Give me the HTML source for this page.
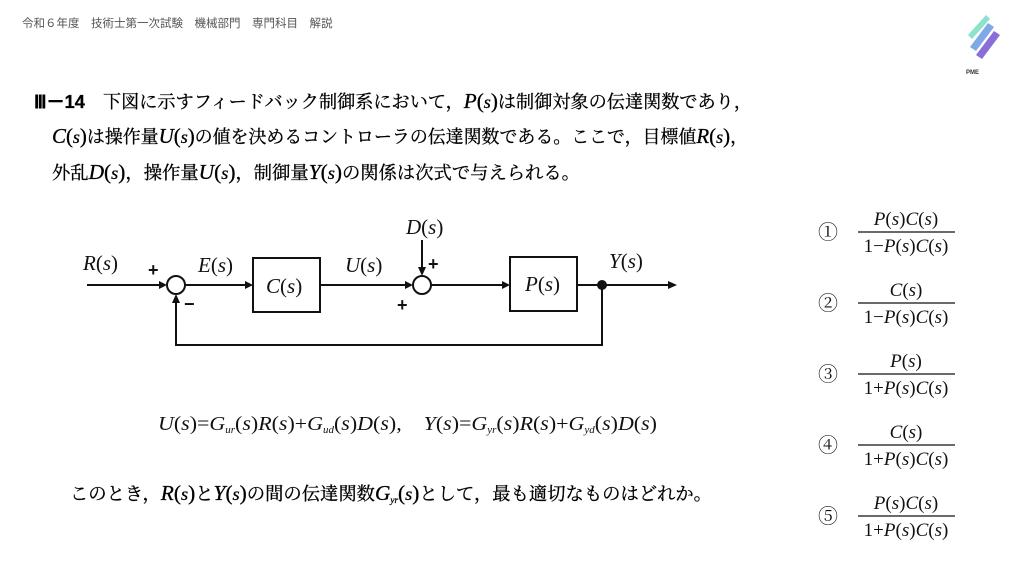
<!DOCTYPE html>
<html><head><meta charset="utf-8"><style>
html,body{margin:0;padding:0;background:#fff;}
svg{display:block;}
.j{font-family:"Liberation Serif","Noto Serif CJK SC",serif;}
.m{font-family:"Liberation Serif",serif;font-style:italic;}
</style></head><body>
<svg width="1024" height="576" viewBox="0 0 1024 576" xmlns="http://www.w3.org/2000/svg">
<text x="22" y="27" font-family="Liberation Sans,Noto Sans CJK JP,sans-serif" font-size="11.5" fill="#555">令和６年度　技術士第一次試験　機械部門　専門科目　解説</text>
<g transform="translate(968,15)">
<polygon points="18,0 22,4 4,24 0,20" fill="#8ee0cf"/>
<polygon points="20,8 26,12 8,36 2,32" fill="#7fa8e6"/>
<polygon points="26,16 32,20 14,44 8,40" fill="#8a6ed8"/>
</g>
<text x="966" y="74" font-family="Liberation Sans,sans-serif" font-size="6" font-weight="bold" fill="#333">PME</text>
<g class="j" font-size="18" fill="#000" stroke="#000" stroke-width="0.3">
<text x="34" y="108" textLength="718" lengthAdjust="spacingAndGlyphs"><tspan font-family="Liberation Sans,sans-serif" font-weight="bold">Ⅲ－14</tspan>　下図に示すフィードバック制御系において，<tspan class="m" font-size="21">P</tspan><tspan font-size="21">(</tspan><tspan class="m">s</tspan><tspan font-size="21">)</tspan>は制御対象の伝達関数であり，</text>
<text x="52" y="143" textLength="696" lengthAdjust="spacingAndGlyphs"><tspan class="m" font-size="21">C</tspan><tspan font-size="21">(</tspan><tspan class="m">s</tspan><tspan font-size="21">)</tspan>は操作量<tspan class="m" font-size="21">U</tspan><tspan font-size="21">(</tspan><tspan class="m">s</tspan><tspan font-size="21">)</tspan>の値を決めるコントローラの伝達関数である。ここで，目標値<tspan class="m" font-size="21">R</tspan><tspan font-size="21">(</tspan><tspan class="m">s</tspan><tspan font-size="21">)</tspan>，</text>
<text x="52" y="179" textLength="528" lengthAdjust="spacingAndGlyphs">外乱<tspan class="m" font-size="21">D</tspan><tspan font-size="21">(</tspan><tspan class="m">s</tspan><tspan font-size="21">)</tspan>，操作量<tspan class="m" font-size="21">U</tspan><tspan font-size="21">(</tspan><tspan class="m">s</tspan><tspan font-size="21">)</tspan>，制御量<tspan class="m" font-size="21">Y</tspan><tspan font-size="21">(</tspan><tspan class="m">s</tspan><tspan font-size="21">)</tspan>の関係は次式で与えられる。</text>
</g>
<g stroke="#111" stroke-width="2" fill="none">
<line x1="87" y1="285" x2="162" y2="285"/>
<circle cx="176" cy="285" r="9"/>
<line x1="185" y1="285" x2="246" y2="285"/>
<rect x="253" y="258" width="67" height="54"/>
<line x1="320" y1="285" x2="406" y2="285"/>
<circle cx="422" cy="285" r="9"/>
<line x1="431" y1="285" x2="503" y2="285"/>
<rect x="510" y="257" width="67" height="54"/>
<line x1="577" y1="285" x2="668" y2="285"/>
<polyline points="602,285 602,345 176,345 176,302"/>
<line x1="422" y1="240" x2="422" y2="268"/>
</g>
<g fill="#111">
<polygon points="167,285 159,281 159,289"/>
<polygon points="253,285 245,281 245,289"/>
<polygon points="413,285 405,281 405,289"/>
<polygon points="510,285 502,281 502,289"/>
<polygon points="677,285 668,281 668,289"/>
<polygon points="176,294 172,303 180,303"/>
<polygon points="422,276 418,267 426,267"/>
<circle cx="602" cy="285" r="5"/>
</g>
<g class="m" font-size="21" fill="#111">
<text x="83" y="270">R<tspan font-style="normal">(</tspan>s<tspan font-style="normal">)</tspan></text>
<text x="198" y="272">E<tspan font-style="normal">(</tspan>s<tspan font-style="normal">)</tspan></text>
<text x="266" y="293">C<tspan font-style="normal">(</tspan>s<tspan font-style="normal">)</tspan></text>
<text x="345" y="272">U<tspan font-style="normal">(</tspan>s<tspan font-style="normal">)</tspan></text>
<text x="406" y="234">D<tspan font-style="normal">(</tspan>s<tspan font-style="normal">)</tspan></text>
<text x="525" y="291">P<tspan font-style="normal">(</tspan>s<tspan font-style="normal">)</tspan></text>
<text x="609" y="268">Y<tspan font-style="normal">(</tspan>s<tspan font-style="normal">)</tspan></text>
</g>
<g font-family="Liberation Sans,sans-serif" font-size="18" font-weight="bold" fill="#111">
<text x="148" y="276">+</text><text x="184" y="310">−</text>
<text x="428" y="270">+</text><text x="397" y="311">+</text>
</g>
<text x="158" y="430" class="j" font-size="20" fill="#111" textLength="499" lengthAdjust="spacingAndGlyphs"><tspan class="m">U</tspan>(<tspan class="m">s</tspan>)=<tspan class="m">G</tspan><tspan class="m" font-size="10" dy="3">ur</tspan><tspan dy="-3">(</tspan><tspan class="m">s</tspan>)<tspan class="m">R</tspan>(<tspan class="m">s</tspan>)+<tspan class="m">G</tspan><tspan class="m" font-size="10" dy="3">ud</tspan><tspan dy="-3">(</tspan><tspan class="m">s</tspan>)<tspan class="m">D</tspan>(<tspan class="m">s</tspan>),　<tspan class="m">Y</tspan>(<tspan class="m">s</tspan>)=<tspan class="m">G</tspan><tspan class="m" font-size="10" dy="3">yr</tspan><tspan dy="-3">(</tspan><tspan class="m">s</tspan>)<tspan class="m">R</tspan>(<tspan class="m">s</tspan>)+<tspan class="m">G</tspan><tspan class="m" font-size="10" dy="3">yd</tspan><tspan dy="-3">(</tspan><tspan class="m">s</tspan>)<tspan class="m">D</tspan>(<tspan class="m">s</tspan>)</text>
<text x="70" y="500" class="j" font-size="18" fill="#000" stroke="#000" stroke-width="0.3" textLength="642" lengthAdjust="spacingAndGlyphs">このとき，<tspan class="m" font-size="21">R</tspan><tspan font-size="21">(</tspan><tspan class="m">s</tspan><tspan font-size="21">)</tspan>と<tspan class="m" font-size="21">Y</tspan><tspan font-size="21">(</tspan><tspan class="m">s</tspan><tspan font-size="21">)</tspan>の間の伝達関数<tspan class="m" font-size="21">G</tspan><tspan class="m" font-size="9" dy="3">yr</tspan><tspan dy="-3" font-size="21">(</tspan><tspan class="m">s</tspan><tspan font-size="21">)</tspan>として，最も適切なものはどれか。</text>
<g class="j" font-size="19" fill="#111">
<g><text x="818" y="239" font-size="20">①</text><text x="906" y="225" text-anchor="middle"><tspan class="m">P</tspan>(<tspan class="m">s</tspan>)<tspan class="m">C</tspan>(<tspan class="m">s</tspan>)</text><line x1="858" y1="232" x2="955" y2="232" stroke="#111" stroke-width="1.3"/><text x="906" y="252" text-anchor="middle">1−<tspan class="m">P</tspan>(<tspan class="m">s</tspan>)<tspan class="m">C</tspan>(<tspan class="m">s</tspan>)</text></g>
<g transform="translate(0,71)"><text x="818" y="239" font-size="20">②</text><text x="906" y="225" text-anchor="middle"><tspan class="m">C</tspan>(<tspan class="m">s</tspan>)</text><line x1="858" y1="232" x2="955" y2="232" stroke="#111" stroke-width="1.3"/><text x="906" y="252" text-anchor="middle">1−<tspan class="m">P</tspan>(<tspan class="m">s</tspan>)<tspan class="m">C</tspan>(<tspan class="m">s</tspan>)</text></g>
<g transform="translate(0,142)"><text x="818" y="239" font-size="20">③</text><text x="906" y="225" text-anchor="middle"><tspan class="m">P</tspan>(<tspan class="m">s</tspan>)</text><line x1="858" y1="232" x2="955" y2="232" stroke="#111" stroke-width="1.3"/><text x="906" y="252" text-anchor="middle">1+<tspan class="m">P</tspan>(<tspan class="m">s</tspan>)<tspan class="m">C</tspan>(<tspan class="m">s</tspan>)</text></g>
<g transform="translate(0,213)"><text x="818" y="239" font-size="20">④</text><text x="906" y="225" text-anchor="middle"><tspan class="m">C</tspan>(<tspan class="m">s</tspan>)</text><line x1="858" y1="232" x2="955" y2="232" stroke="#111" stroke-width="1.3"/><text x="906" y="252" text-anchor="middle">1+<tspan class="m">P</tspan>(<tspan class="m">s</tspan>)<tspan class="m">C</tspan>(<tspan class="m">s</tspan>)</text></g>
<g transform="translate(0,284)"><text x="818" y="239" font-size="20">⑤</text><text x="906" y="225" text-anchor="middle"><tspan class="m">P</tspan>(<tspan class="m">s</tspan>)<tspan class="m">C</tspan>(<tspan class="m">s</tspan>)</text><line x1="858" y1="232" x2="955" y2="232" stroke="#111" stroke-width="1.3"/><text x="906" y="252" text-anchor="middle">1+<tspan class="m">P</tspan>(<tspan class="m">s</tspan>)<tspan class="m">C</tspan>(<tspan class="m">s</tspan>)</text></g>
</g>
</svg>
</body></html>
